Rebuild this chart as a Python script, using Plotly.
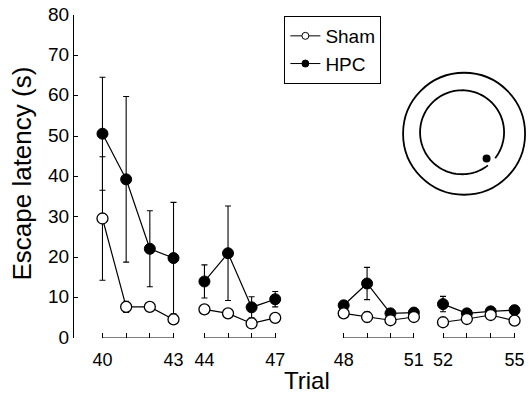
import math
import plotly.graph_objects as go

# ---- data ----
groups = [[40, 41, 42, 43], [44, 45, 46, 47], [48, 49, 50, 51], [52, 53, 54, 55]]
hpc_mean = [50.6, 39.3, 22.1, 19.8, 14.0, 21.0, 7.6, 9.6, 8.1, 13.5, 6.1, 6.3, 8.4, 6.1, 6.6, 6.9]
hpc_err = [14.0, 20.5, 9.4, 13.8, 4.1, 11.7, 2.6, 1.9, 1.0, 4.0, 1.0, 0.8, 1.9, 0.7, 0.7, 1.0]
sham_mean = [29.6, 7.7, 7.7, 4.6, 7.1, 6.1, 3.6, 5.0, 6.1, 5.2, 4.4, 5.2, 3.9, 4.7, 5.7, 4.3]
sham_err = [15.3, 1.4, 1.0, 0.8, 1.0, 1.0, 0.7, 0.8, 1.0, 1.2, 0.8, 0.8, 0.6, 0.8, 0.8, 0.8]
y_ticks = [0, 10, 20, 30, 40, 50, 60, 70, 80]

FONT = "Liberation Sans, Arial, sans-serif"
W, H = 529, 405
# pixel layout of the plot area
PL, PR, PT, PB = 72.5, 525, 13, 338
ML, MR, MT, MB = PL, W - PR, PT, H - PB
PW = PR - PL
PH = PB - PT

# pixel spans of each group's x-axis domain (layout)
dom_px = [(96.3, 180.0), (199.3, 282.7), (340.0, 422.7), (440.2, 524.5)]
PAD = 0.25


def px_x(p):
    return (p - PL) / PW


def px_y(p):
    return (PB - p) / PH


fig = go.Figure()
idx = 0
for gi, trials in enumerate(groups):
    n = len(trials)
    xa = "x" if gi == 0 else f"x{gi+1}"
    hm = hpc_mean[idx:idx + n]
    he = hpc_err[idx:idx + n]
    sm = sham_mean[idx:idx + n]
    se = sham_err[idx:idx + n]
    idx += n
    fig.add_trace(go.Scatter(
        x=trials, y=hm, xaxis=xa, yaxis="y", mode="lines+markers", name="HPC",
        showlegend=False, cliponaxis=False,
        line=dict(color="black", width=1.2),
        marker=dict(symbol="circle", size=11, color="black", line=dict(color="black", width=1)),
        error_y=dict(type="data", array=he, visible=True, color="black", thickness=1.1, width=3),
    ))
    fig.add_trace(go.Scatter(
        x=trials, y=sm, xaxis=xa, yaxis="y", mode="lines+markers", name="Sham",
        showlegend=False, cliponaxis=False,
        line=dict(color="black", width=1.2),
        marker=dict(symbol="circle", size=11, color="white", line=dict(color="black", width=1.3)),
        error_y=dict(type="data", array=se, visible=True, color="black", thickness=1.1, width=3),
    ))
    fig.add_shape(type="line", xref=xa, yref="y", x0=trials[0], x1=trials[-1], y0=0, y1=0,
                  line=dict(color="black", width=1.2))
    axname = "xaxis" if gi == 0 else f"xaxis{gi+1}"
    fig.update_layout(**{axname: dict(
        domain=[px_x(dom_px[gi][0]), px_x(dom_px[gi][1])],
        range=[trials[0] - PAD, trials[-1] + PAD], anchor="y",
        showline=False, showgrid=False, zeroline=False,
        ticks="inside", ticklen=5, tickwidth=1.1, tickcolor="black",
        tickvals=trials, ticktext=[str(trials[0])] + [""] * (n - 2) + [str(trials[-1])],
        ticklabelstandoff=9, ticklabeloverflow="allow",
        tickfont=dict(family=FONT, size=18, color="black"),
    )})

# legend entries (small legend symbols as in the figure)
fig.add_trace(go.Scatter(x=[None], y=[None], mode="lines+markers", name="Sham",
                         line=dict(color="black", width=1),
                         marker=dict(symbol="circle", size=7, color="white",
                                     line=dict(color="black", width=1))))
fig.add_trace(go.Scatter(x=[None], y=[None], mode="lines+markers", name="HPC",
                         line=dict(color="black", width=1),
                         marker=dict(symbol="circle", size=7, color="black",
                                     line=dict(color="black", width=1))))

fig.update_layout(
    width=W, height=H,
    margin=dict(l=ML, r=MR, t=MT, b=MB, pad=0),
    paper_bgcolor="white", plot_bgcolor="white",
    yaxis=dict(domain=[0, 1], range=[0, 80], anchor="free", position=0,
               showline=True, linecolor="black", linewidth=1.2,
               showgrid=False, zeroline=False,
               ticks="inside", ticklen=4, tickwidth=1.1, tickcolor="black",
               ticklabelstandoff=0, ticklabeloverflow="allow", ticklabelshift=-1,
               tickvals=y_ticks, tickfont=dict(family=FONT, size=19, color="black")),
    showlegend=True,
    legend=dict(x=px_x(286), y=px_y(14), xanchor="left", yanchor="top",
                bordercolor="black", borderwidth=1, bgcolor="white",
                font=dict(family=FONT, size=19, color="black"),
                itemsizing="trace", tracegroupgap=0),
)

# axis titles
fig.add_annotation(text="Trial", xref="paper", yref="paper",
                   x=px_x(309), y=px_y(381), showarrow=False,
                   xanchor="center", yanchor="middle",
                   font=dict(family=FONT, size=24, color="black"))
fig.add_annotation(text="Escape latency (s)", xref="paper", yref="paper",
                   x=px_x(20.5), y=px_y(173), showarrow=False, textangle=-90,
                   xanchor="center", yanchor="middle",
                   font=dict(family=FONT, size=26, color="black"))

# inset pool diagram (decoration)
cx, cy = 467.5, 132.5
ax_p, ay_p = px_x(cx), px_y(cy)
R_out, R_in = 61, 42
fig.add_shape(type="circle", xref="paper", yref="paper", xsizemode="pixel", ysizemode="pixel",
              xanchor=ax_p, yanchor=ay_p, x0=-R_out, x1=R_out, y0=-R_out, y1=R_out,
              line=dict(color="black", width=1.8))
pts = []
a0, a1 = -38, 308
steps = 120
for k in range(steps + 1):
    a = math.radians(a0 + (a1 - a0) * k / steps)
    pts.append((R_in * math.cos(a) - 2, R_in * math.sin(a) + 1.5))
path = "M " + " L ".join(f"{px:.2f},{py:.2f}" for px, py in pts)
fig.add_shape(type="path", xref="paper", yref="paper", xsizemode="pixel", ysizemode="pixel",
              xanchor=ax_p, yanchor=ay_p, path=path, line=dict(color="black", width=1.8))
dx, dy = 490 - cx, cy - 157.3
fig.add_shape(type="circle", xref="paper", yref="paper", xsizemode="pixel", ysizemode="pixel",
              xanchor=ax_p, yanchor=ay_p, x0=dx - 4, x1=dx + 4, y0=dy - 4, y1=dy + 4,
              fillcolor="black", line=dict(color="black", width=0))

# page body has a default 8px margin; remove it so the figure fills the window exactly
fig.write_html("out.html", config={"displayModeBar": False},
               post_script="document.body.style.margin='0';document.body.style.overflow='hidden';")
